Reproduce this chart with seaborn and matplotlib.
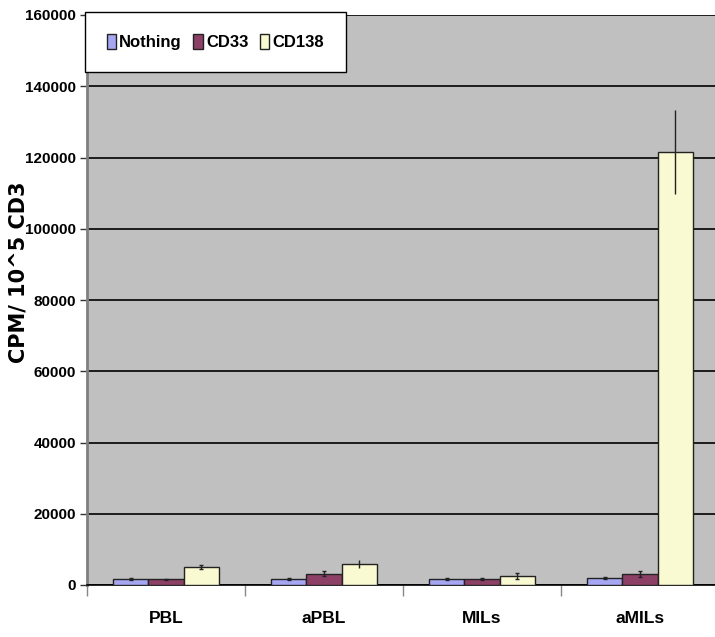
import numpy as np
import pandas as pd
import matplotlib
matplotlib.use("Agg")
import matplotlib.pyplot as plt
import seaborn as sns

# values
groups = ["PBL", "aPBL", "MILs", "aMILs"]
treatments = ["Nothing", "CD33", "CD138"]
nothing = [1600, 1600, 1600, 1900]
cd33 = [1600, 3100, 1600, 3100]
cd138 = [5050, 5800, 2600, 121500]
nothing_err = [300, 300, 300, 300]
cd33_err = [200, 700, 300, 800]
cd138_err = [600, 1100, 800, 11700]
colors = ["#9999FF", "#993366", "#FFFFCC"]

rows = []
for t, vals, errs in zip(treatments, [nothing, cd33, cd138], [nothing_err, cd33_err, cd138_err]):
    for g, v, e in zip(groups, vals, errs):
        rows.append({"group": g, "treatment": t, "cpm": v, "err": e})
df = pd.DataFrame(rows)

sns.set_style("white")
plt.rcParams["font.family"] = ["Liberation Sans", "DejaVu Sans"]
plt.rcParams["font.weight"] = "bold"
plt.rcParams["text.color"] = "black"
plt.rcParams["xtick.labelcolor"] = "black"
plt.rcParams["ytick.labelcolor"] = "black"

fig = plt.figure(figsize=(7.15, 6.37), dpi=100)
ax = fig.add_axes([87 / 715, 52 / 637, 632 / 715, 570 / 637])
ax.set_facecolor("#C0C0C0")

sns.barplot(data=df, x="group", y="cpm", hue="treatment", order=groups,
            hue_order=treatments, palette=colors, width=0.665, errorbar=None,
            edgecolor="#222222", linewidth=1, ax=ax, zorder=3)

# error bars placed on the bar patches
bars = [p for p in ax.patches if p.get_height() > 0][:12]
for p, (_, r) in zip(bars, df.iterrows()):
    cx = p.get_x() + p.get_width() / 2
    ax.errorbar(cx, r["cpm"], yerr=r["err"], fmt="none", ecolor="#222222",
                elinewidth=1, capsize=1.5 if r["err"] < 1000 else 0, zorder=4)

ax.set_ylim(0, 160000)
ax.set_xlim(-0.5, 3.5)
ax.set_yticks(np.arange(0, 160001, 20000))
ax.yaxis.grid(True, color="black", linewidth=1.2, zorder=1)
ax.set_axisbelow(True)
ax.tick_params(axis="y", which="major", direction="out", length=5, width=1,
               color="#333333", labelsize=11, left=True, pad=3, labelcolor="black")
ax.tick_params(axis="x", which="major", length=0, labelsize=12.5, pad=19,
               labelcolor="black")
ax.set_xticks(np.arange(-0.5, 4, 1), minor=True)
ax.tick_params(axis="x", which="minor", direction="out", length=8, width=1,
               color="#888888", bottom=True)
for lab in ax.get_xticklabels() + ax.get_yticklabels():
    lab.set_fontweight("bold")

for s in ["top", "right"]:
    ax.spines[s].set_visible(False)
ax.spines["left"].set_color("#808080")
ax.spines["left"].set_linewidth(2)
ax.spines["bottom"].set_color("black")
ax.spines["bottom"].set_linewidth(1.2)
ax.set_xlabel("")
ax.set_ylabel("")

fig.text(19 / 715, 1 - 272 / 637, "CPM/ 10^5 CD3", rotation=90, ha="center",
         va="center", fontsize=15, fontweight="bold", family="DejaVu Sans",
         color="black")

leg = ax.legend(loc="upper left", bbox_to_anchor=(85 / 715, 1 - 12 / 637),
                bbox_transform=fig.transFigure, borderaxespad=0, ncol=3,
                frameon=True, fancybox=False, prop={"size": 12, "weight": "bold"},
                handlelength=0.55, handleheight=1.0, handletextpad=0.2,
                columnspacing=0.7, borderpad=1.3)
leg.get_frame().set_edgecolor("black")
leg.get_frame().set_facecolor("white")
leg.get_frame().set_linewidth(1)
leg.get_frame().set_alpha(1)
for t in leg.get_texts():
    t.set_color("black")

fig.savefig("out.png", dpi=100)
